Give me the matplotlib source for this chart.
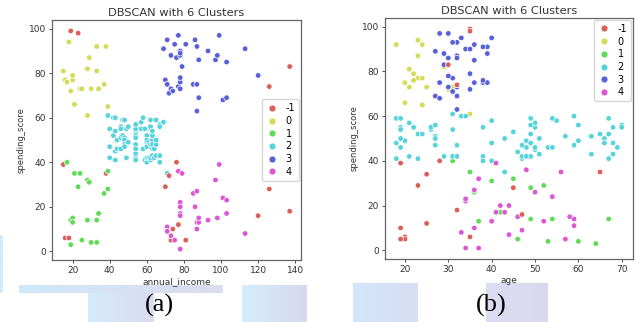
import matplotlib
matplotlib.use("Agg")
import matplotlib.pyplot as plt
from matplotlib.lines import Line2D
import numpy as np

# customers (Mall data): age, annual income (k$), spending score
age = [19, 21, 20, 23, 31, 22, 35, 23, 64, 30, 67, 35, 58, 24, 37, 22, 35, 20, 52, 35,
       35, 25, 46, 31, 54, 29, 45, 35, 40, 23, 60, 21, 53, 18, 49, 21, 42, 30, 36, 20,
       65, 24, 48, 31, 49, 24, 50, 27, 29, 31, 49, 33, 31, 59, 50, 47, 51, 69, 27, 53,
       70, 19, 67, 54, 63, 18, 43, 68, 19, 32, 70, 47, 60, 60, 59, 26, 45, 40, 23, 49,
       57, 38, 67, 46, 21, 48, 55, 22, 34, 50, 68, 18, 48, 40, 32, 24, 47, 27, 48, 20,
       23, 49, 67, 26, 49, 21, 66, 54, 68, 66, 65, 19, 38, 19, 18, 19, 63, 49, 51, 50,
       27, 38, 40, 39, 23, 31, 43, 40, 59, 38, 47, 39, 25, 31, 20, 29, 44, 32, 19, 35,
       57, 32, 28, 32, 25, 28, 48, 32, 34, 34, 43, 39, 44, 38, 47, 27, 37, 30, 34, 30,
       56, 29, 19, 31, 50, 36, 42, 33, 36, 32, 40, 28, 36, 36, 52, 30, 58, 27, 59, 35,
       37, 32, 46, 29, 41, 30, 54, 28, 41, 36, 34, 32, 33, 38, 47, 35, 45, 32, 32, 30]
annual_income = [15, 15, 16, 16, 17, 17, 18, 18, 19, 19, 19, 19, 20, 20, 20, 20, 21, 21, 23, 23,
                 24, 24, 25, 25, 28, 28, 28, 28, 29, 29, 30, 30, 33, 33, 33, 33, 34, 34, 37, 37,
                 38, 38, 39, 39, 39, 39, 40, 40, 40, 40, 42, 42, 43, 43, 43, 43, 44, 44, 46, 46,
                 46, 46, 47, 47, 48, 48, 48, 48, 48, 48, 49, 49, 50, 50, 54, 54, 54, 54, 54, 54,
                 54, 54, 54, 54, 54, 54, 57, 57, 58, 58, 59, 59, 60, 60, 60, 60, 60, 60, 61, 61,
                 62, 62, 62, 62, 62, 62, 63, 63, 63, 63, 63, 63, 64, 64, 65, 65, 65, 65, 67, 67,
                 67, 67, 69, 69, 70, 70, 71, 71, 71, 71, 71, 71, 72, 72, 73, 73, 73, 73, 74, 74,
                 75, 75, 76, 76, 77, 77, 77, 77, 78, 78, 78, 78, 78, 78, 78, 78, 78, 78, 78, 78,
                 79, 79, 81, 81, 85, 85, 86, 86, 87, 87, 87, 87, 87, 87, 88, 88, 88, 88, 93, 93,
                 97, 97, 98, 98, 99, 99, 101, 101, 103, 103, 103, 103, 113, 113, 120, 120, 126, 126, 137, 137]
spending_score = [39, 81, 6, 77, 40, 76, 6, 94, 3, 72, 14, 99, 15, 77, 13, 79, 35, 66, 29, 98,
                  35, 73, 5, 73, 14, 82, 32, 61, 31, 87, 4, 73, 4, 92, 14, 81, 17, 73, 26, 75,
                  35, 92, 36, 61, 28, 65, 55, 47, 42, 42, 52, 60, 54, 60, 45, 41, 50, 46, 51, 46,
                  56, 55, 52, 59, 51, 59, 50, 48, 59, 47, 55, 42, 49, 56, 47, 54, 53, 48, 52, 42,
                  51, 55, 41, 44, 57, 46, 58, 55, 60, 46, 55, 41, 49, 40, 42, 52, 47, 50, 42, 49,
                  41, 48, 59, 55, 56, 42, 50, 46, 43, 48, 52, 54, 42, 46, 48, 50, 43, 59, 43, 57,
                  56, 40, 58, 91, 29, 77, 35, 95, 11, 75, 9, 75, 34, 71, 5, 88, 7, 73, 10, 72,
                  5, 93, 40, 87, 12, 97, 36, 74, 22, 90, 17, 88, 20, 76, 16, 89, 1, 78, 1, 73,
                  35, 83, 5, 93, 26, 75, 20, 95, 27, 63, 13, 75, 10, 92, 13, 86, 15, 69, 14, 90,
                  32, 86, 15, 88, 39, 97, 24, 68, 17, 85, 23, 69, 8, 91, 16, 79, 28, 74, 18, 83]
cluster = [-1, 0, -1, 0, 1, 0, -1, 0, 1, 0, 1, -1, 1, 0, 1, 0, 1, 0, 1, -1,
           1, 0, 1, 0, 1, 0, 1, 0, 1, 0, 1, 0, 1, 0, 1, 0, 1, 0, 1, 0,
           -1, 0, 1, 2, 1, 0, 2, 2, 2, 2, 2, 2, 2, 2, 2, 2, 2, 2, 2, 2,
           2, 2, 2, 2, 2, 2, 2, 2, 2, 2, 2, 2, 2, 2, 2, 2, 2, 2, 2, 2,
           2, 2, 2, 2, 2, 2, 2, 2, 2, 2, 2, 2, 2, 2, 2, 2, 2, 2, 2, 2,
           2, 2, 2, 2, 2, 2, 2, 2, 2, 2, 2, 2, 2, 2, 2, 2, 2, 2, 2, 2,
           2, 2, 2, 3, -1, 3, 2, 3, 4, 3, 4, 3, -1, 3, -1, 3, 4, 3, -1, 3,
           4, 3, -1, 3, -1, 3, 4, 3, 4, 3, 4, 3, 4, 3, 4, 3, 4, 3, 4, 3,
           4, 3, -1, 3, 4, 3, 4, 3, 4, 3, 4, 3, 4, 3, 4, 3, 4, 3, 4, 3,
           4, 3, 4, 3, 4, 3, 4, 3, 4, 3, 4, 3, 4, 3, -1, 3, -1, -1, -1, -1]
labels = [-1, 0, 1, 2, 3, 4]

# hls palette, 6 colours
pal = ["#db5f57", "#d3db57", "#5fdb57", "#57d3db", "#575fdb", "#db57d3"]
cmap = dict(zip(labels, pal))
cols = [cmap[c] for c in cluster]

fig = plt.figure(figsize=(6.35, 3.22), dpi=100)
W, H = 635.0, 322.0

# faint watermark blocks behind the sub-figure labels
bg = fig.add_axes([0, 0, 1, 1], zorder=-5)
bg.axis("off")
def grad(x0, x1, y0, y1, c0, c1):
    g = np.linspace(0, 1, 64)
    c0 = np.array(matplotlib.colors.to_rgb(c0))
    c1 = np.array(matplotlib.colors.to_rgb(c1))
    img = (c0[None, :] * (1 - g[:, None]) + c1[None, :] * g[:, None])[None, :, :]
    bg.imshow(img, extent=(x0, x1, y1, y0), aspect="auto", interpolation="bilinear")
grad(19, 223, 285, 293, "#cfe8fa", "#dcdcee")
grad(88, 154, 293, 322, "#d4eafb", "#dcdcf0")
grad(242, 307, 285, 322, "#d4eefc", "#d8d8ee")
grad(353, 418, 283, 322, "#d2e6fa", "#d8def4")
grad(486, 548, 283, 322, "#dcdcf2", "#d8d8ee")
grad(0, 3, 235, 293, "#d4eafb", "#d4eafb")
bg.set_xlim(0, W)
bg.set_ylim(H, 0)

def panel(rect, x, xlabel, loc):
    ax = fig.add_axes(rect)
    ax.scatter(x, spending_score, c=cols, s=16, edgecolors="white", linewidths=0.5)
    ax.set_title("DBSCAN with 6 Clusters", fontsize=8.2, color="#333333", pad=3)
    ax.set_xlabel(xlabel, fontsize=6.5, color="#333333", labelpad=1)
    ax.set_ylabel("spending_score", fontsize=6, color="#333333", labelpad=2)
    ax.set_yticks([0, 20, 40, 60, 80, 100])
    ax.tick_params(labelsize=6.5, length=2.5, width=0.6, pad=2, colors="#333333")
    for s in ax.spines.values():
        s.set_color("#666666")
        s.set_linewidth(0.9)
    handles = [Line2D([], [], marker="o", ls="", color=cmap[l], markeredgecolor="white",
                      markeredgewidth=0.5, markersize=5) for l in labels]
    ax.legend(handles, [str(l) for l in labels], loc=loc, fontsize=7, handletextpad=0.8,
              labelspacing=0.28, borderpad=0.4, handlelength=1.2, borderaxespad=0.2)
    return ax

ax1 = panel([52 / W, 1 - 260 / H, 249 / W, 240 / H], annual_income, "annual_income", "center right")
ax1.set_xticks([20, 40, 60, 80, 100, 120, 140])
ax2 = panel([385 / W, 1 - 259 / H, 248 / W, 241 / H], age, "age", "upper right")
ax2.set_xticks([20, 30, 40, 50, 60, 70])

fig.text(159 / W, 1 - 305 / H, "(a)", fontsize=19, family="Liberation Serif", ha="center", va="center")
fig.text(491 / W, 1 - 305 / H, "(b)", fontsize=19, family="Liberation Serif", ha="center", va="center")

fig.savefig("out.png", dpi=100)
